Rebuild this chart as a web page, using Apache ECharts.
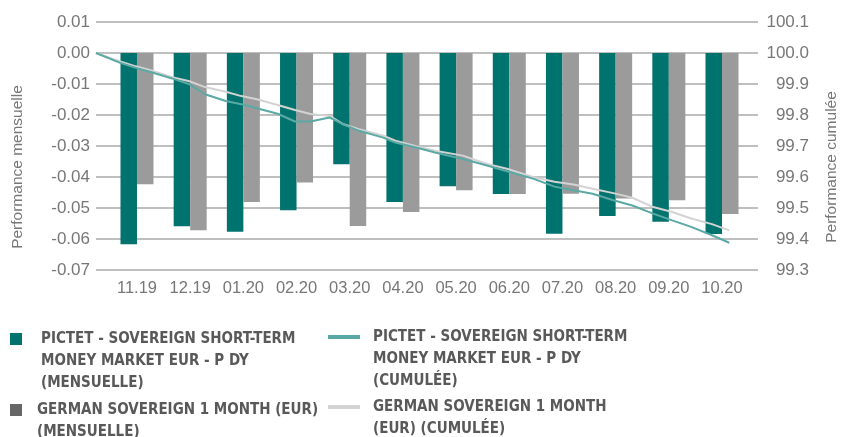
<!DOCTYPE html>
<html>
<head>
<meta charset="utf-8">
<script src="https://cdn.jsdelivr.net/npm/echarts@6/dist/echarts.min.js"></script>
<style>
  html, body { margin: 0; padding: 0; background: #fff; }
  #chart { width: 848px; height: 437px; }
</style>
</head>
<body>
<div id="chart"></div>
<script>
// monthly bars (left axis)
const months = ['11.19', '12.19', '01.20', '02.20', '03.20', '04.20', '05.20', '06.20', '07.20', '08.20', '09.20', '10.20'];
const pictetMonthly = [-0.0617, -0.0559, -0.0577, -0.0507, -0.0359, -0.0481, -0.0430, -0.0455, -0.0583, -0.0526, -0.0544, -0.0584];
const germanMonthly = [-0.0423, -0.0572, -0.0481, -0.0418, -0.0558, -0.0513, -0.0443, -0.0455, -0.0454, -0.0469, -0.0475, -0.0519];

// cumulative lines (right axis), day index from start
const lineDays = [0, 14, 23, 32, 44, 54, 63, 75, 84, 93, 105, 115, 124, 135, 143, 152, 166, 173, 185, 196, 212, 226, 238, 253, 265, 276, 287, 299, 310, 322, 333, 344, 356, 366];
const pictetCum = [100.000, 99.968, 99.952, 99.938, 99.918, 99.899, 99.867, 99.845, 99.835, 99.822, 99.804, 99.779, 99.779, 99.792, 99.770, 99.749, 99.727, 99.711, 99.695, 99.679, 99.658, 99.637, 99.618, 99.594, 99.569, 99.557, 99.546, 99.525, 99.508, 99.482, 99.460, 99.439, 99.412, 99.388];
const germanCum = [100.000, 99.973, 99.957, 99.944, 99.922, 99.909, 99.890, 99.875, 99.861, 99.851, 99.832, 99.816, 99.803, 99.797, 99.770, 99.754, 99.733, 99.717, 99.699, 99.685, 99.669, 99.642, 99.626, 99.599, 99.585, 99.576, 99.562, 99.548, 99.533, 99.503, 99.487, 99.466, 99.448, 99.428];

const names = [
  ['PICTET - SOVEREIGN SHORT-TERM', 'MONEY MARKET EUR - P DY', '(MENSUELLE)'],
  ['PICTET - SOVEREIGN SHORT-TERM', 'MONEY MARKET EUR - P DY', '(CUMULÉE)'],
  ['GERMAN SOVEREIGN 1 MONTH (EUR)', '(MENSUELLE)'],
  ['GERMAN SOVEREIGN 1 MONTH', '(EUR) (CUMULÉE)']
];
const seriesNames = names.map(n => n.join(' '));

const TEAL = '#00736e';
const GREY = '#9b9b9b';
const TEAL_LINE = '#5aa9a5';
const GREY_LINE = '#d3d3d3';
const labelColor = '#777';
const tickFont = 'Liberation Sans';
const legendFont = "'Liberation Sans Narrow', 'DejaVu Sans Condensed', sans-serif";

const chart = echarts.init(document.getElementById('chart'));

// legend helper: pad lines above so the icon lines up with the first line
const makeLegend = (idx, left, top, icon, w, h, pad) => {
  const lines = names[idx];
  const blank = '\n'.repeat(lines.length - 1);
  return {
    left: left,
    top: top,
    padding: 0,
    orient: 'vertical',
    selectedMode: false,
    itemWidth: w,
    itemHeight: h,
    data: [{ name: seriesNames[idx], icon: icon, itemStyle: idx === 2 ? { color: '#666' } : undefined }],
    formatter: () => blank + lines.join('\n'),
    textStyle: {
      fontFamily: legendFont,
      fontWeight: 'bold',
      fontSize: 15,
      color: '#595959',
      lineHeight: 22,
      padding: [0, 0, 0, pad]
    }
  };
};

const option = {
  animation: false,
  backgroundColor: '#fff',
  grid: [
    { left: 96, right: 81, top: 22, bottom: 167 },
    { left: 110.4, right: 99.4, top: 22, bottom: 167 }
  ],
  legend: [
    makeLegend(0, 10, 284, 'rect', 12, 12, 14),
    makeLegend(1, 328, 282, 'rect', 32, 4, 8),
    makeLegend(2, 10, 377, 'rect', 12, 12, 10),
    makeLegend(3, 328, 374, 'rect', 32, 4, 8)
  ],
  xAxis: [
    {
      type: 'value',
      gridIndex: 0,
      min: 0,
      max: 382.6,
      show: false
    },
    {
      type: 'category',
      gridIndex: 1,
      data: months,
      axisLine: { show: false },
      axisTick: { show: false },
      axisLabel: { color: labelColor, fontFamily: tickFont, fontSize: 16.5, margin: 10, interval: 0 }
    }
  ],
  yAxis: [
    {
      type: 'value',
      gridIndex: 0,
      position: 'left',
      min: -0.07,
      max: 0.01,
      interval: 0.01,
      name: 'Performance mensuelle',
      nameLocation: 'middle',
      nameRotate: 90,
      nameGap: 70,
      nameTextStyle: { color: labelColor, fontFamily: tickFont, fontSize: 15.5, padding: [0, 42, 0, 0] },
      axisLine: { show: false },
      axisTick: { show: false },
      axisLabel: {
        color: labelColor, fontFamily: tickFont, fontSize: 17, margin: 6,
        formatter: v => v.toFixed(2)
      },
      splitLine: { lineStyle: { color: '#aaaaaa', width: 1.5 } }
    },
    {
      type: 'value',
      gridIndex: 0,
      position: 'right',
      min: 99.3,
      max: 100.1,
      interval: 0.1,
      name: 'Performance cumulée',
      nameLocation: 'middle',
      nameRotate: 90,
      nameGap: 66,
      nameTextStyle: { color: labelColor, fontFamily: tickFont, fontSize: 15.5, padding: [0, 42, 0, 0] },
      axisLine: { show: false },
      axisTick: { show: false },
      axisLabel: {
        color: labelColor, fontFamily: tickFont, fontSize: 17, margin: 51, align: 'right',
        formatter: v => v.toFixed(1)
      },
      splitLine: { show: false }
    },
    {
      type: 'value',
      gridIndex: 1,
      min: -0.07,
      max: 0.01,
      interval: 0.01,
      show: false
    }
  ],
  series: [
    {
      name: seriesNames[0],
      type: 'bar',
      xAxisIndex: 1,
      yAxisIndex: 2,
      data: pictetMonthly,
      barWidth: 16.5,
      barGap: '0%',
      itemStyle: { color: TEAL }
    },
    {
      name: seriesNames[2],
      type: 'bar',
      xAxisIndex: 1,
      yAxisIndex: 2,
      data: germanMonthly,
      barWidth: 16.5,
      barGap: '0%',
      itemStyle: { color: GREY }
    },
    {
      name: seriesNames[3],
      type: 'line',
      xAxisIndex: 0,
      yAxisIndex: 1,
      data: lineDays.map((d, i) => [d, germanCum[i]]),
      symbol: 'none',
      z: 5,
      lineStyle: { color: GREY_LINE, width: 2 },
      itemStyle: { color: GREY_LINE }
    },
    {
      name: seriesNames[1],
      type: 'line',
      xAxisIndex: 0,
      yAxisIndex: 1,
      data: lineDays.map((d, i) => [d, pictetCum[i]]),
      symbol: 'none',
      z: 6,
      lineStyle: { color: TEAL_LINE, width: 2 },
      itemStyle: { color: TEAL_LINE }
    }
  ]
};

chart.setOption(option);
</script>
</body>
</html>
